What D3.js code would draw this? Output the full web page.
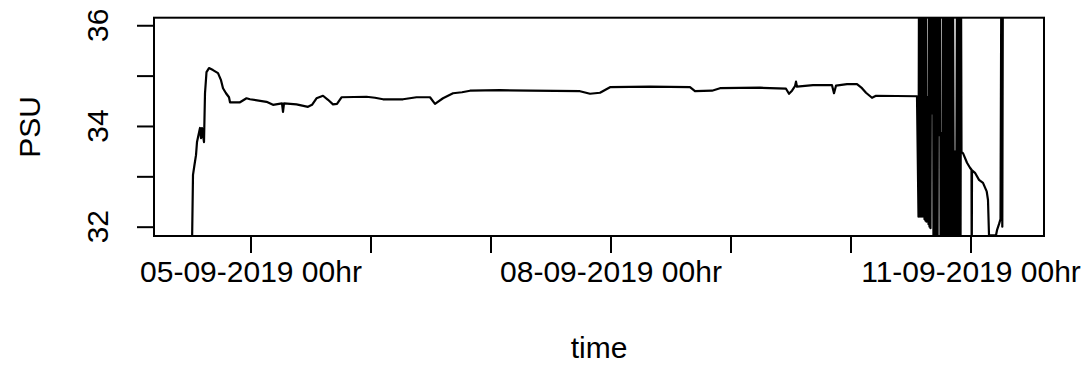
<!DOCTYPE html>
<html>
<head>
<meta charset="utf-8">
<script src="https://cdn.jsdelivr.net/npm/d3@7"></script>
<style>
    body { margin: 0; background: #fff; }
    svg { display: block; font-family: "Liberation Sans", Arial, sans-serif; }
</style>
</head>
<body>
<div id="chart"></div>
<script>
// hours after 05-09-2019 00hr, and salinity (PSU)
const hours = [
    -11.7, -11.5, -11.2, -10.9, -10.7, -10.4, -10.1, -9.9, -9.7, -9.3,
    -9.1, -8.8, -8.3, -7.5, -6.5, -5.9, -5.5, -4.9, -4.3, -4.1,
    -2.1, -0.8, -0.1, 3.2, 4.5, 6.3, 6.5, 6.7, 9.2, 11.5,
    12.3, 13.2, 14.5, 15.5, 16.5, 17.3, 18.2, 23.2, 24.9, 26.5,
    30.5, 33.2, 35.9, 36.9, 38.5, 40.5, 42.3, 43.9, 49.9, 55.9,
    65.9, 67.9, 69.9, 71.9, 79.9, 87.9, 88.9, 92.3, 93.9, 101.9,
    107.1, 107.7, 108.3, 108.9, 109.1, 109.3, 112.5, 116.3, 116.7, 117.1,
    119.3, 121.3, 122.3, 123.1, 124.3, 125.1, 133.3,
    133.6, 133.7, 133.8, 133.9, 134.0, 134.1, 134.2, 134.3, 134.4, 134.5,
    134.6, 134.7, 134.8, 134.9, 135.0, 135.1, 135.2, 135.4, 135.6, 135.7,
    135.8, 135.9, 136.0, 136.12, 136.32, 136.52, 136.6, 136.7, 136.8, 136.9,
    137.0, 137.1, 137.2, 137.3, 137.4, 137.52, 137.72, 137.92, 138.02, 138.22,
    138.42, 138.52, 138.6, 138.7, 138.8, 138.9, 139.0, 139.1, 139.2, 139.3,
    139.4, 139.5, 139.6, 139.7, 139.8, 139.9, 140.0, 140.1, 140.2, 140.3,
    140.4, 140.5, 140.7, 140.9, 141.1, 141.3, 141.4, 141.5, 141.6, 141.7,
    141.8, 141.9, 142.0, 142.1, 142.2,
    142.5, 143.3, 143.9, 144.2, 144.24, 144.3, 144.9, 145.7, 146.5, 147.24,
    147.5, 147.7, 149.1, 149.3, 149.7, 150.0, 150.2, 150.36, 150.5
];
const psu = [
    31.6, 33.03, 33.23, 33.42, 33.68, 33.82, 33.96, 33.76, 33.96, 33.68,
    34.65, 35.07, 35.15, 35.11, 35.05, 34.91, 34.75, 34.65, 34.57, 34.47,
    34.47, 34.55, 34.53, 34.48, 34.42, 34.45, 34.28, 34.45, 34.43, 34.38,
    34.42, 34.55, 34.6, 34.52, 34.43, 34.44, 34.57, 34.58, 34.56, 34.53,
    34.53, 34.57, 34.57, 34.44, 34.55, 34.65, 34.67, 34.70, 34.71, 34.70,
    34.69, 34.64, 34.66, 34.77, 34.78, 34.77, 34.69, 34.70, 34.75, 34.76,
    34.74, 34.64, 34.70, 34.79, 34.88, 34.78, 34.81, 34.81, 34.65, 34.80,
    34.83, 34.83, 34.75, 34.66, 34.56, 34.60, 34.59,
    32.2, 37, 32.2, 37, 32.2, 37, 32.2, 37, 32.2, 37,
    32.2, 37, 32.15, 37, 32.12, 37, 32.1, 34.57, 32.05, 37,
    32.0, 37, 31.97, 37, 34.25, 37, 31, 37, 31, 37,
    31, 37, 31, 37, 31, 37, 33.82, 37, 31, 33.86,
    31, 37, 31, 37, 31, 37, 31, 37, 31, 37,
    31, 37, 31, 37, 31, 37, 31, 37, 31, 37,
    31, 37, 31, 33.49, 31, 37, 31, 37, 31, 37,
    31, 37, 31, 37, 33.49,
    33.46, 33.27, 33.17, 33.13, 31.0, 33.12, 33.07, 32.93, 32.87, 32.70,
    32.53, 31.83, 31.83, 31.93, 32.05, 32.15, 38, 32.0, 38
];
const dayTicks = ["2019-09-05", "2019-09-06", "2019-09-07", "2019-09-08", "2019-09-09", "2019-09-10", "2019-09-11"];
const shownDays = ["2019-09-05", "2019-09-08", "2019-09-11"];
const yTicks = [32, 33, 34, 35, 36];
const yLabels = [32, 34, 36];

const width = 1089, height = 387;
const margin = { left: 154, right: 45, top: 17.7, bottom: 151 };
const base = Date.UTC(2019, 8, 5, 0, 0);

const svg = d3.select("#chart")
    .append("svg")
    .attr("width", width)
    .attr("height", height);

const x = d3.scaleUtc()
    .domain([new Date(Date.UTC(2019, 8, 4, 4, 42)), new Date(Date.UTC(2019, 8, 11, 14, 42))])
    .range([margin.left, width - margin.right]);
const y = d3.scaleLinear()
    .domain([31.815, 36.15])
    .range([height - margin.bottom, margin.top]);

const data = hours.map((h, i) => ({ t: new Date(base + h * 3600e3), v: psu[i] }));

svg.append("clipPath")
    .attr("id", "plotclip")
    .append("rect")
    .attr("x", margin.left)
    .attr("y", margin.top)
    .attr("width", width - margin.left - margin.right)
    .attr("height", height - margin.top - margin.bottom);

svg.append("path")
    .datum(data)
    .attr("clip-path", "url(#plotclip)")
    .attr("fill", "none")
    .attr("stroke", "#000")
    .attr("stroke-width", 2.2)
    .attr("stroke-linejoin", "round")
    .attr("d", d3.line().x(d => x(d.t)).y(d => y(d.v)));

const fmt = d3.utcFormat("%d-%m-%Y %Hhr");
const parse = d3.utcParse("%Y-%m-%d");

// x axis
svg.append("g")
    .attr("transform", `translate(0,${height - margin.bottom})`)
    .call(d3.axisBottom(x)
        .tickValues(dayTicks.map(parse))
        .tickSize(17)
        .tickFormat(d => shownDays.includes(d3.utcFormat("%Y-%m-%d")(d)) ? fmt(d) : ""))
    .call(g => {
        g.select(".domain").remove();
        g.selectAll("line").attr("stroke", "#000").attr("stroke-width", 2);
        g.selectAll("text")
            .attr("dy", null)
            .attr("y", 46)
            .attr("fill", "#000")
            .attr("font-size", 30)
            .attr("font-family", null);
    });

// y axis
svg.append("g")
    .attr("transform", `translate(${margin.left},0)`)
    .call(d3.axisLeft(y).tickValues(yTicks).tickSize(17).tickFormat(""))
    .call(g => {
        g.select(".domain").remove();
        g.selectAll("line").attr("stroke", "#000").attr("stroke-width", 2);
    });

svg.append("g")
    .selectAll("text")
    .data(yLabels)
    .join("text")
    .attr("transform", d => `translate(108,${y(d)}) rotate(-90)`)
    .attr("text-anchor", "middle")
    .attr("font-size", 30)
    .text(d => d);

// box
svg.append("rect")
    .attr("x", margin.left)
    .attr("y", margin.top)
    .attr("width", width - margin.left - margin.right)
    .attr("height", height - margin.top - margin.bottom)
    .attr("fill", "none")
    .attr("stroke", "#000")
    .attr("stroke-width", 2);

svg.append("text")
    .text("time")
    .attr("x", (margin.left + width - margin.right) / 2)
    .attr("y", 358)
    .attr("text-anchor", "middle")
    .attr("font-size", 30);

svg.append("text")
    .text("PSU")
    .attr("transform", `translate(40,${(margin.top + height - margin.bottom) / 2}) rotate(-90)`)
    .attr("text-anchor", "middle")
    .attr("font-size", 30);
</script>
</body>
</html>
